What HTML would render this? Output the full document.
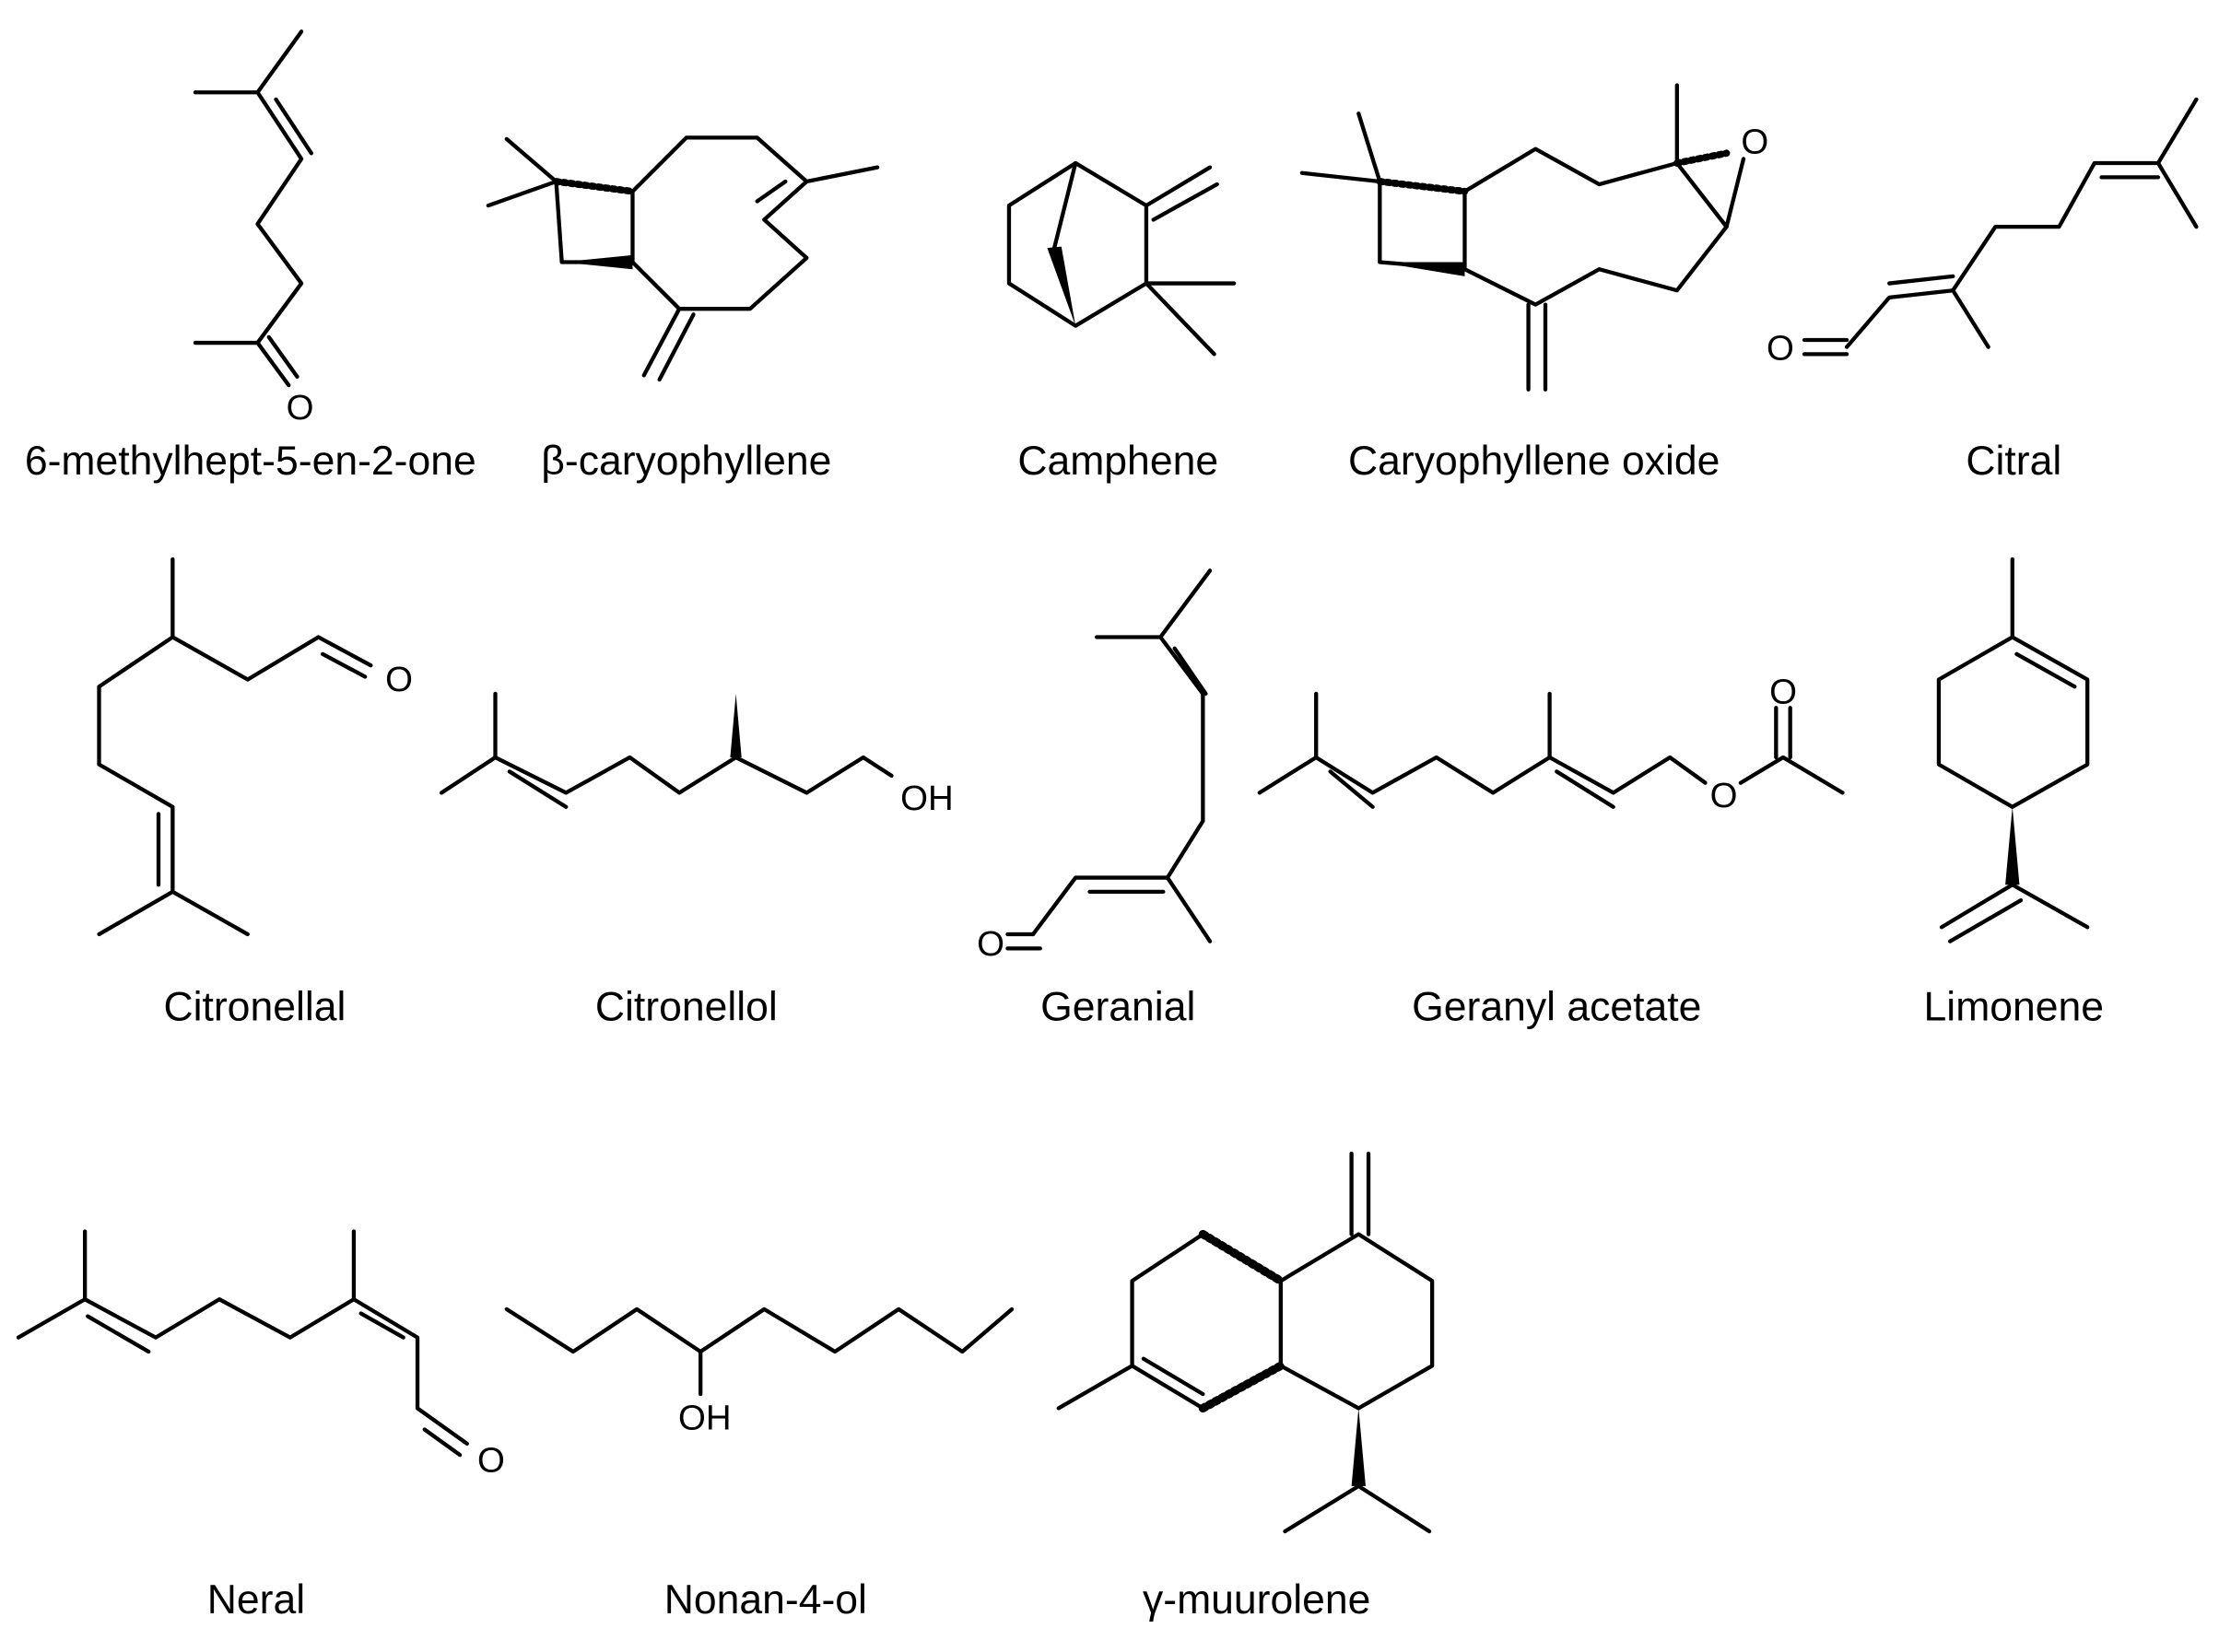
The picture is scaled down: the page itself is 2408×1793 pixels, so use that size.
<!DOCTYPE html>
<html><head><meta charset="utf-8"><style>
html,body{margin:0;padding:0;background:#fff;}
svg{display:block;}
text{font-family:"Liberation Sans",Arial,sans-serif;fill:#000;}
</style></head><body>
<svg width="2408" height="1793" viewBox="0 0 1568 1167" xmlns="http://www.w3.org/2000/svg">
<g stroke="#000" stroke-width="2.8" fill="none" stroke-linecap="round" stroke-linejoin="round">
<polyline points="213,22 182,65 213,112 182,158 213,200 182,242"/>
<line x1="138" y1="65" x2="182" y2="65"/>
<line x1="195" y1="70" x2="220" y2="108"/>
<line x1="138" y1="242" x2="182" y2="242"/>
<line x1="182" y1="242" x2="204" y2="272"/>
<line x1="190" y1="238" x2="210" y2="266"/>
<polygon points="393,128 447,135 447,185 397,185"/>
<line x1="393" y1="128" x2="358" y2="98"/>
<line x1="393" y1="128" x2="345" y2="145"/>
<polyline points="447,135 485,97 535,97 570,128 540,155 570,182 530,218 480,218 447,185"/>
<line x1="555" y1="128" x2="535" y2="142"/>
<line x1="570" y1="128" x2="620" y2="118"/>
<line x1="480" y1="218" x2="455" y2="265"/>
<line x1="490" y1="222" x2="466" y2="268"/>
<polygon points="713,145 760,115 810,145 810,200 760,230 713,200"/>
<line x1="810" y1="145" x2="855" y2="118"/>
<line x1="815" y1="155" x2="860" y2="130"/>
<line x1="810" y1="200" x2="872" y2="200"/>
<line x1="810" y1="200" x2="858" y2="250"/>
<line x1="760" y1="115" x2="745" y2="175"/>
<polygon points="975,128 1035,135 1035,190 975,185"/>
<line x1="975" y1="128" x2="960" y2="80"/>
<line x1="975" y1="128" x2="920" y2="122"/>
<polyline points="1035,135 1085,105 1130,130 1185,115 1220,160 1185,205 1130,190 1085,215 1035,190"/>
<line x1="1185" y1="115" x2="1185" y2="60"/>
<line x1="1080" y1="215" x2="1080" y2="275"/>
<line x1="1092" y1="215" x2="1092" y2="275"/>
<line x1="1220" y1="160" x2="1232" y2="112"/>
<polyline points="1305,245 1335,210 1380,205 1410,160 1455,160 1480,115 1525,115 1552,70"/>
<line x1="1275" y1="240" x2="1305" y2="240"/>
<line x1="1275" y1="250" x2="1305" y2="250"/>
<line x1="1335" y1="200" x2="1380" y2="195"/>
<line x1="1380" y1="205" x2="1405" y2="245"/>
<line x1="1485" y1="125" x2="1525" y2="125"/>
<line x1="1525" y1="115" x2="1552" y2="160"/>
<line x1="122" y1="395" x2="122" y2="450"/>
<polyline points="122,450 175,480 225,450 262,470"/>
<line x1="228" y1="462" x2="258" y2="478"/>
<polyline points="122,450 70,485 70,540 122,570 122,630 70,660"/>
<line x1="112" y1="575" x2="112" y2="625"/>
<line x1="122" y1="630" x2="175" y2="660"/>
<polyline points="312,560 350,535 400,560 445,535 480,560 520,535 570,560 610,535 630,548"/>
<line x1="350" y1="535" x2="350" y2="490"/>
<line x1="360" y1="545" x2="400" y2="570"/>
<polyline points="855,403 820,450 850,490 850,580 825,620 855,665"/>
<line x1="820" y1="450" x2="775" y2="450"/>
<line x1="830" y1="458" x2="852" y2="490"/>
<polyline points="825,620 760,620 730,660"/>
<line x1="770" y1="630" x2="822" y2="630"/>
<line x1="712" y1="660" x2="730" y2="660"/>
<line x1="712" y1="670" x2="735" y2="670"/>
<polyline points="890,560 930,535 970,560 1015,535 1055,560 1095,535 1140,560 1180,535 1205,553"/>
<line x1="930" y1="535" x2="930" y2="490"/>
<line x1="940" y1="545" x2="970" y2="570"/>
<line x1="1095" y1="535" x2="1095" y2="490"/>
<line x1="1100" y1="545" x2="1140" y2="570"/>
<polyline points="1230,553 1260,535 1302,560"/>
<line x1="1255" y1="535" x2="1255" y2="500"/>
<line x1="1265" y1="535" x2="1265" y2="500"/>
<line x1="1422" y1="395" x2="1422" y2="450"/>
<polygon points="1422,450 1475,480 1475,540 1422,570 1370,540 1370,480"/>
<line x1="1425" y1="462" x2="1466" y2="485"/>
<line x1="1422" y1="625" x2="1475" y2="655"/>
<line x1="1422" y1="625" x2="1372" y2="655"/>
<line x1="1428" y1="636" x2="1378" y2="665"/>
<polyline points="13,945 60,918 110,945 155,918 205,945 250,918 295,945 295,995 330,1020"/>
<line x1="60" y1="918" x2="60" y2="870"/>
<line x1="62" y1="930" x2="105" y2="955"/>
<line x1="250" y1="918" x2="250" y2="870"/>
<line x1="255" y1="928" x2="285" y2="945"/>
<line x1="300" y1="1010" x2="325" y2="1028"/>
<polyline points="358,925 405,955 450,925 495,955 540,925 590,955 635,925 680,955 715,925"/>
<line x1="495" y1="955" x2="495" y2="985"/>
<polyline points="850,872 800,905 800,965 850,995"/>
<line x1="808" y1="960" x2="850" y2="985"/>
<polygon points="905,905 960,872 1012,905 1012,965 960,995 905,965"/>
<line x1="955" y1="872" x2="955" y2="815"/>
<line x1="967" y1="872" x2="967" y2="815"/>
<line x1="800" y1="965" x2="748" y2="995"/>
<line x1="960" y1="1050" x2="908" y2="1082"/>
<line x1="960" y1="1050" x2="1010" y2="1082"/>
<line x1="850" y1="872" x2="905" y2="905" stroke-dasharray="2,3" stroke-width="6"/>
<line x1="850" y1="995" x2="905" y2="965" stroke-dasharray="2,3" stroke-width="6"/>
<line x1="393" y1="128" x2="447" y2="135" stroke-dasharray="2,3" stroke-width="5"/>
<line x1="975" y1="128" x2="1035" y2="135" stroke-dasharray="2,3" stroke-width="5"/>
<line x1="1185" y1="115" x2="1220" y2="108" stroke-dasharray="2,3" stroke-width="5"/>
</g>
<g fill="#000">
<polygon points="397,185 447,180 447,190"/>
<polygon points="975,185 1035,185 1035,195"/>
<polygon points="760,230 740,175 750,174"/>
<polygon points="520,490 516,535 524,535"/>
<polygon points="1422,570 1417,625 1427,625"/>
<polygon points="960,995 955,1050 965,1050"/>
</g>
<g font-size="25">
<text x="212" y="296" text-anchor="middle">O</text>
<text x="1240" y="108" text-anchor="middle">O</text>
<text x="1258" y="254" text-anchor="middle">O</text>
<text x="282" y="488" text-anchor="middle">O</text>
<text x="655" y="572" text-anchor="middle">OH</text>
<text x="700" y="675" text-anchor="middle">O</text>
<text x="1218" y="570" text-anchor="middle">O</text>
<text x="1260" y="497" text-anchor="middle">O</text>
<text x="347" y="1040" text-anchor="middle">O</text>
<text x="498" y="1010" text-anchor="middle">OH</text>
</g>
<g font-size="29" text-anchor="middle">
<text x="177" y="335">6-methylhept-5-en-2-one</text>
<text x="485" y="335">β-caryophyllene</text>
<text x="790" y="335">Camphene</text>
<text x="1084" y="335">Caryophyllene oxide</text>
<text x="1423" y="335">Citral</text>
<text x="180" y="721">Citronellal</text>
<text x="485" y="721">Citronellol</text>
<text x="790" y="721">Geranial</text>
<text x="1100" y="721">Geranyl acetate</text>
<text x="1423" y="721">Limonene</text>
<text x="181" y="1140">Neral</text>
<text x="541" y="1140">Nonan-4-ol</text>
<text x="888" y="1140">γ-muurolene</text>
</g>
</svg>
</body></html>
